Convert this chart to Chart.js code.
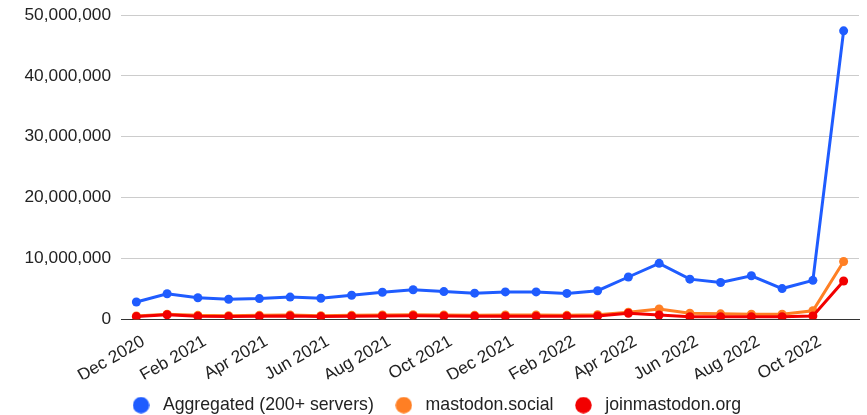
<!DOCTYPE html>
<html lang="en">
<head>
    <meta charset="UTF-8">
    <title>Mastodon chart</title>
    <script src="https://cdn.jsdelivr.net/npm/chart.js"></script>
    <style>
        html, body { margin: 0; padding: 0; background: #fff; }
        #wrap { width: 867px; height: 415px; }
    </style>
</head>
<body>
    <div id="wrap"><canvas id="chart"></canvas></div>
    <script>
        // Monthly values, Dec 2020 .. Nov 2022
        const months = [
            'Dec 2020', 'Jan 2021', 'Feb 2021', 'Mar 2021', 'Apr 2021', 'May 2021',
            'Jun 2021', 'Jul 2021', 'Aug 2021', 'Sep 2021', 'Oct 2021', 'Nov 2021',
            'Dec 2021', 'Jan 2022', 'Feb 2022', 'Mar 2022', 'Apr 2022', 'May 2022',
            'Jun 2022', 'Jul 2022', 'Aug 2022', 'Sep 2022', 'Oct 2022', 'Nov 2022'
        ];
        const aggregated = [
            2850000, 4200000, 3550000, 3300000, 3400000, 3650000,
            3450000, 3950000, 4450000, 4850000, 4550000, 4300000,
            4500000, 4500000, 4250000, 4700000, 6950000, 9200000,
            6600000, 6050000, 7150000, 5050000, 6400000, 47400000
        ];
        const mastodonSocial = [
            550000, 850000, 650000, 600000, 650000, 700000,
            600000, 650000, 700000, 750000, 700000, 650000,
            700000, 700000, 650000, 750000, 1150000, 1700000,
            1000000, 900000, 850000, 850000, 1400000, 9500000
        ];
        const joinMastodon = [
            450000, 750000, 500000, 450000, 500000, 550000,
            450000, 500000, 550000, 600000, 550000, 500000,
            500000, 500000, 500000, 550000, 1000000, 700000,
            430000, 430000, 430000, 430000, 550000, 6300000
        ];
        const yTicks = { max: 50000000, step: 10000000 };

        const tickFont = { family: '"Liberation Sans", Arial, sans-serif', size: 17.3 };
        const legendFont = { family: '"Liberation Sans", Arial, sans-serif', size: 17.7, lineHeight: 1 };

        function series(label, data, color, order) {
            return {
                label: label,
                data: data,
                borderColor: color,
                backgroundColor: color,
                borderWidth: 3,
                pointRadius: 4.5,
                pointHoverRadius: 4.5,
                pointBorderWidth: 0,
                tension: 0,
                order: order
            };
        }

        // small round legend marker drawn as an image
        function dot(color) {
            const c = document.createElement('canvas');
            c.width = 17;
            c.height = 17;
            const g = c.getContext('2d');
            g.fillStyle = color;
            g.beginPath();
            g.arc(8.5, 8.5, 8.25, 0, Math.PI * 2);
            g.fill();
            return c;
        }

        new Chart(document.getElementById('chart'), {
            type: 'line',
            data: {
                labels: months,
                datasets: [
                    series('Aggregated (200+ servers)', aggregated, '#1f5cff', 2),
                    series('mastodon.social', mastodonSocial, '#ff7f24', 1),
                    series('joinmastodon.org', joinMastodon, '#f20000', 0)
                ]
            },
            options: {
                responsive: true,
                maintainAspectRatio: false,
                animation: false,
                layout: { padding: { top: 15, right: 8, left: 10, bottom: -9 } },
                plugins: {
                    tooltip: { enabled: false },
                    legend: {
                        position: 'bottom',
                        labels: {
                            usePointStyle: true,
                            pointStyleWidth: 26,
                            boxHeight: 12,
                            padding: 17,
                            color: '#222',
                            font: legendFont,
                            sort: (a, b) => a.datasetIndex - b.datasetIndex,
                            generateLabels: function (chart) {
                                const items = Chart.defaults.plugins.legend.labels.generateLabels(chart);
                                items.forEach(item => { item.pointStyle = dot(item.fillStyle); });
                                return items;
                            }
                        }
                    }
                },
                scales: {
                    x: {
                        offset: true,
                        grid: { display: false, drawTicks: false },
                        border: { display: true, color: '#333', width: 1 },
                        ticks: {
                            autoSkip: false,
                            minRotation: 30,
                            maxRotation: 30,
                            padding: 12,
                            labelOffset: 7,
                            color: '#222',
                            font: tickFont,
                            callback: function (value, index) {
                                return index % 2 === 0 ? months[index] : '';
                            }
                        },
                        afterFit: function (scale) { scale.height = 60; }
                    },
                    y: {
                        min: 0,
                        max: yTicks.max,
                        grid: { color: '#cccccc', drawTicks: false },
                        border: { display: false },
                        ticks: {
                            stepSize: yTicks.step,
                            padding: 10,
                            color: '#222',
                            font: tickFont,
                            callback: v => v.toLocaleString('en-US')
                        },
                        afterFit: function (scale) {
                            scale.width = 111;
                            scale.paddingTop = 0;
                            scale.paddingBottom = 0;
                        }
                    }
                }
            }
        });
    </script>
</body>
</html>
